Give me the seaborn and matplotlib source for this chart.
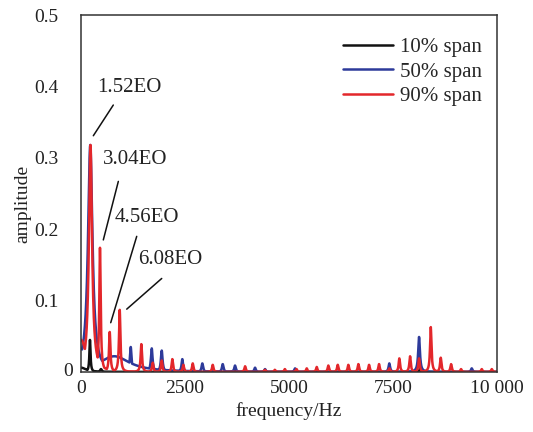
import numpy as np
import pandas as pd
import matplotlib
matplotlib.use('Agg')
import matplotlib.pyplot as plt
import seaborn as sns

# peaks: centre (Hz), height, half-width (Hz)
black_f = [0, 215, 480, 2450, 3700, 8150]
black_a = [0.006, 0.045, 0.004, 0.006, 0.005, 0.004]
black_w = [150, 16, 25, 22, 22, 22]

blue_f = [0, 222, 800, 1195, 1700, 1940, 2435, 2916, 3406, 3702, 4183, 4423,
          5145, 7411, 8126, 9392]
blue_a = [0.032, 0.318, 0.022, 0.035, 0.033, 0.030, 0.018, 0.012, 0.011, 0.009,
          0.006, 0.004, 0.005, 0.012, 0.049, 0.005]
blue_w = [220, 65, 450, 24, 24, 24, 22, 22, 22, 22, 22, 22, 22, 22, 25, 22]

red_f = [0, 228, 456, 690, 930, 1450, 1723, 1940, 2195, 2460, 2685, 3166, 3943,
         4420, 4660, 4900, 5180, 5426, 5666, 5945, 6171, 6426, 6667, 6924, 7164,
         7411, 7652, 7909, 8126, 8407, 8647, 8895, 9135, 9633, 9873]
red_a = [0.045, 0.318, 0.174, 0.056, 0.087, 0.039, 0.013, 0.016, 0.018, 0.010,
         0.012, 0.010, 0.008, 0.003, 0.003, 0.004, 0.004, 0.005, 0.007, 0.009,
         0.010, 0.010, 0.011, 0.010, 0.011, 0.005, 0.019, 0.022, 0.019, 0.063,
         0.020, 0.011, 0.004, 0.004, 0.004]
red_w = [150, 45] + [20] * (len(red_f) - 2)

series = ['10% span', '50% span', '90% span']
colors = ['#111111', '#2d3a9a', '#e3272b']

freq = np.arange(0, 10001, 2.0)


def spectrum(fc, amp, width):
    fc, amp, width = map(np.asarray, (fc, amp, width))
    lor = amp[:, None] / (1 + ((freq[None, :] - fc[:, None]) / width[:, None]) ** 2)
    return lor.max(axis=0)


df = pd.concat([
    pd.DataFrame({'f': freq, 'amp': spectrum(black_f, black_a, black_w), 'span': series[0]}),
    pd.DataFrame({'f': freq, 'amp': spectrum(blue_f, blue_a, blue_w), 'span': series[1]}),
    pd.DataFrame({'f': freq, 'amp': spectrum(red_f, red_a, red_w), 'span': series[2]}),
])

sns.set_style('white')
plt.rcParams['font.family'] = ['Liberation Serif', 'DejaVu Serif']

fig = plt.figure(figsize=(5.33, 4.32), dpi=100)
ax = fig.add_axes([0.152, 0.139, 0.7805, 0.826])

sns.lineplot(data=df, x='f', y='amp', hue='span', palette=dict(zip(series, colors)),
             estimator=None, linewidth=1.8, ax=ax)

ax.set_xlim(0, 10000)
ax.set_ylim(0, 0.5)
ax.set_xticks([0, 2500, 5000, 7500, 10000])
ax.set_xticklabels(['0', '2500', '5000', '7500', '10 000'])
ax.set_yticks([0, 0.1, 0.2, 0.3, 0.4, 0.5])
ax.set_yticklabels(['', '0.1', '0.2', '0.3', '0.4', '0.5'])
ax.tick_params(direction='in', length=4, width=1, colors='#222222', labelsize=14)
ax.tick_params(axis='y', pad=16)
ax.tick_params(axis='x', pad=6)
ax.text(-0.02, 0, '0', transform=ax.transAxes, ha='right', va='center',
        fontsize=14, color='#222222')

for sp in ax.spines.values():
    sp.set_visible(True)
    sp.set_color('#333333')
    sp.set_linewidth(1.1)

ax.set_xlabel('frequency/Hz', fontsize=14, color='#222222')
ax.set_ylabel('amplitude', fontsize=14, color='#222222')
ax.xaxis.set_label_coords(0.5, -0.085)
ax.yaxis.set_label_coords(-0.12, 0.47)

# harmonic labels with leader lines
labels = ['1.52EO', '3.04EO', '4.56EO', '6.08EO']
text_xy = [(385, 0.398), (529, 0.297), (817, 0.217), (1370, 0.157)]
line_from = [(776, 0.374), (897, 0.267), (1339, 0.190), (1940, 0.131)]
line_to = [(296, 0.331), (536, 0.185), (714, 0.069), (1099, 0.088)]
for lab, (tx, ty), (x0, y0), (x1, y1) in zip(labels, text_xy, line_from, line_to):
    ax.text(tx, ty, lab, fontsize=15, ha='left', va='center', color='#222222')
    ax.plot([x0, x1], [y0, y1], color='#111111', lw=1.1)

ax.legend(loc='upper left', bbox_to_anchor=(0.63, 0.938), frameon=False,
          fontsize=15, handlelength=2.4, handletextpad=0.35, labelspacing=0.25,
          borderpad=0, borderaxespad=0, title=None)

fig.savefig('out.png', dpi=100)
